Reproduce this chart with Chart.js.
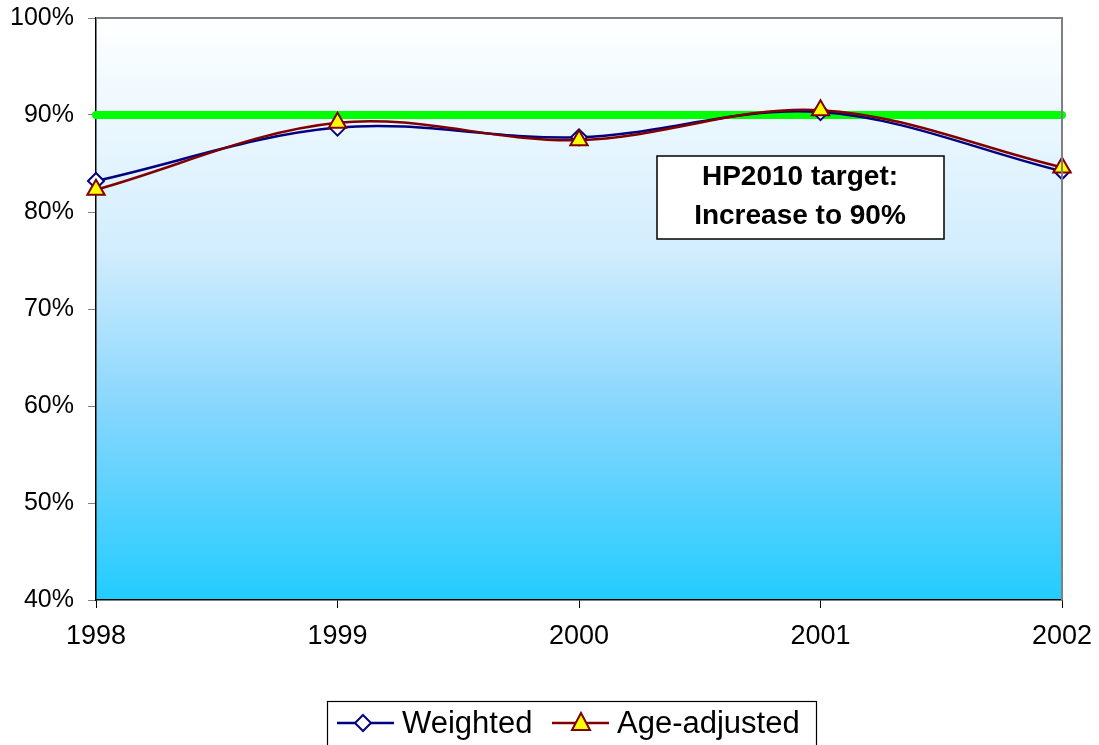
<!DOCTYPE html>
<html>
<head>
<meta charset="utf-8">
<script src="https://cdn.jsdelivr.net/npm/chart.js@4/dist/chart.umd.min.js"></script>
<style>
html,body{margin:0;padding:0;background:#fff;}
#wrap{position:relative;width:1099px;height:745px;}
</style>
</head>
<body>
<div id="wrap"><canvas id="c" width="1099" height="745"></canvas></div>
<script>
const years = ['1998','1999','2000','2001','2002'];
const weighted = [83.2, 88.7, 87.7, 90.3, 84.2];
const ageAdjusted = [82.3, 89.2, 87.4, 90.5, 84.6];
const target = [90, 90, 90, 90, 90];
const yTicks = [40, 50, 60, 70, 80, 90, 100];
const annotationLines = ['HP2010 target:', 'Increase to 90%'];
const FONT = 'Arial, "Liberation Sans", sans-serif';

const bgPlugin = {
  id: 'bg',
  beforeDraw(chart) {
    const {ctx, chartArea: a} = chart;
    const g = ctx.createLinearGradient(0, a.top, 0, a.bottom);
    g.addColorStop(0, '#ffffff');
    g.addColorStop(0.4, '#d2edfd');
    g.addColorStop(0.66, '#8ad7fd');
    g.addColorStop(1, '#22ccff');
    ctx.save();
    ctx.fillStyle = g;
    ctx.fillRect(a.left, a.top, a.right - a.left, a.bottom - a.top);
    ctx.restore();
  },
  afterDatasetsDraw(chart) {
    const {ctx, chartArea: a} = chart;
    ctx.save();
    ctx.strokeStyle = '#808080';
    ctx.lineWidth = 2;
    ctx.beginPath();
    ctx.moveTo(a.left, a.top);
    ctx.lineTo(a.right, a.top);
    ctx.lineTo(a.right, a.bottom);
    ctx.stroke();
    ctx.restore();
  },
  afterDraw(chart) {
    const {ctx} = chart;
    ctx.save();
    ctx.fillStyle = '#ffffff';
    ctx.fillRect(657, 156, 287, 83);
    ctx.strokeStyle = '#000';
    ctx.lineWidth = 1.5;
    ctx.strokeRect(657, 156, 287, 83);
    ctx.fillStyle = '#000';
    ctx.font = 'bold 28px ' + FONT;
    ctx.textAlign = 'center';
    ctx.textBaseline = 'middle';
    ctx.fillText(annotationLines[0], 800, 177);
    ctx.fillText(annotationLines[1], 800, 216);

    ctx.fillStyle = '#fff';
    ctx.fillRect(327, 701, 489, 50);
    ctx.strokeStyle = '#000';
    ctx.lineWidth = 1.2;
    ctx.strokeRect(327.5, 701.5, 489, 50);
    const ly = 723;
    ctx.strokeStyle = '#000080';
    ctx.lineWidth = 2.5;
    ctx.beginPath(); ctx.moveTo(337, ly); ctx.lineTo(394, ly); ctx.stroke();
    ctx.fillStyle = '#fff';
    ctx.lineWidth = 2;
    ctx.beginPath();
    ctx.moveTo(363, ly - 8); ctx.lineTo(371, ly); ctx.lineTo(363, ly + 8); ctx.lineTo(355, ly); ctx.closePath();
    ctx.fill(); ctx.stroke();
    ctx.strokeStyle = '#800000';
    ctx.lineWidth = 2.5;
    ctx.beginPath(); ctx.moveTo(552, ly); ctx.lineTo(609, ly); ctx.stroke();
    ctx.fillStyle = '#ffff00';
    ctx.lineWidth = 2;
    ctx.beginPath();
    ctx.moveTo(581, ly - 10); ctx.lineTo(590, ly + 7); ctx.lineTo(572, ly + 7); ctx.closePath();
    ctx.fill(); ctx.stroke();
    ctx.fillStyle = '#000';
    ctx.font = '31px ' + FONT;
    ctx.textAlign = 'left';
    ctx.textBaseline = 'middle';
    ctx.fillText(chart.data.datasets[0].label, 402, ly + 1);
    ctx.fillText(chart.data.datasets[1].label, 617, ly + 1);
    ctx.restore();
  }
};

new Chart(document.getElementById('c'), {
  type: 'line',
  data: {
    labels: years,
    datasets: [
      {
        label: 'Weighted',
        data: weighted,
        borderColor: '#000080',
        borderWidth: 2.5,
        pointStyle: 'rectRot',
        pointRadius: 8,
        pointBorderWidth: 2,
        pointBackgroundColor: '#ffffff',
        pointBorderColor: '#000080',
        tension: 0.35,
        clip: false,
        order: 1
      },
      {
        label: 'Age-adjusted',
        data: ageAdjusted,
        borderColor: '#800000',
        borderWidth: 2.5,
        pointStyle: 'triangle',
        pointRadius: 10,
        pointBorderWidth: 2,
        pointBackgroundColor: '#ffff00',
        pointBorderColor: '#800000',
        tension: 0.35,
        clip: false,
        order: 0
      },
      {
        label: 'Target',
        data: target,
        borderColor: '#00ff00',
        borderWidth: 8,
        borderCapStyle: 'round',
        pointRadius: 0,
        tension: 0,
        clip: false,
        order: 2
      }
    ]
  },
  options: {
    responsive: false,
    animation: false,
    layout: {padding: {left: 0, right: 37, top: 18, bottom: 85}},
    plugins: {legend: {display: false}, tooltip: {enabled: false}},
    scales: {
      x: {
        offset: false,
        grid: {drawOnChartArea: false, drawTicks: true, tickLength: 8, color: '#000'},
        border: {color: '#000', width: 1.5},
        ticks: {color: '#000', font: {family: FONT, size: 27}, padding: 12, maxRotation: 0},
        afterFit(s) { s.height = 60; s.paddingLeft = 0; s.paddingRight = 0; }
      },
      y: {
        min: 40, max: 100,
        afterBuildTicks(s) { s.ticks = yTicks.map(v => ({value: v})); },
        grid: {drawOnChartArea: false, drawTicks: true, tickLength: 8, color: '#808080'},
        border: {color: '#000', width: 1.5},
        ticks: {color: '#000', font: {family: FONT, size: 25}, padding: 14, callback: v => v + '%'},
        afterFit(s) { s.width = 96; s.paddingTop = 0; s.paddingBottom = 0; }
      }
    }
  },
  plugins: [bgPlugin]
});
</script>
</body>
</html>
